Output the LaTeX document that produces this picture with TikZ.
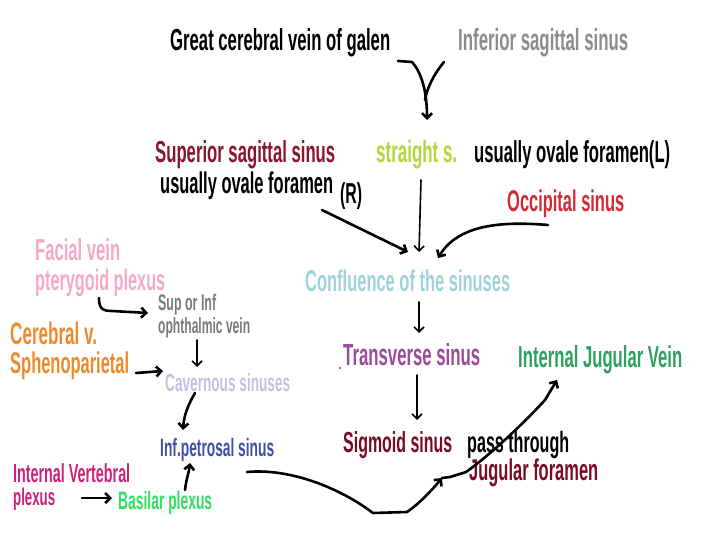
\documentclass[tikz,border=0pt]{standalone}
\usepackage{fontspec}
\newfontfamily\nar[FakeStretch=0.55]{Liberation Sans}
\usetikzlibrary{arrows.meta}
\definecolor{maroon}{HTML}{8A1530}
\definecolor{dmaroon}{HTML}{7A0A25}
\definecolor{grayt}{HTML}{8C8C8C}
\definecolor{ygreen}{HTML}{B5D63A}
\definecolor{occred}{HTML}{D42A35}
\definecolor{pinkt}{HTML}{F5A8C8}
\definecolor{lblue}{HTML}{9ED3DE}
\definecolor{grayo}{HTML}{7A7A7A}
\definecolor{oranget}{HTML}{EE8A2A}
\definecolor{lav}{HTML}{C8BEE0}
\definecolor{bluet}{HTML}{4050A8}
\definecolor{magt}{HTML}{D0207A}
\definecolor{bgreen}{HTML}{30E060}
\definecolor{purt}{HTML}{9E4A9C}
\definecolor{ijvg}{HTML}{2EA060}
\newcommand\fw[2]{\resizebox{#1pt}{!}{#2}}
\begin{document}
\begin{tikzpicture}[x=1pt,y=-1pt,
  lbl/.style={inner sep=0pt, anchor=west, font=\nar\bfseries},
  thick2/.style={line width=2.6pt, line cap=round, line join=round},
  thin2/.style={line width=1.6pt, line cap=round},
  tip/.style={-{Straight Barb[length=5pt,width=10pt]}}]
\useasboundingbox[fill=white] (0,0) rectangle (720,540);
% labels
\node[lbl, text=black] (galen) at (170,43) {\fw{220}{Great cerebral vein of galen}};
\node[lbl, text=grayt] (infsag) at (458,43) {\fw{170}{Inferior sagittal sinus}};
\node[lbl, text=maroon] (sss) at (155,155) {\fw{180}{Superior sagittal sinus}};
\node[lbl, text=ygreen] (straight) at (376,155) {\fw{81}{straight s.}};
\node[lbl, text=black] (uofL) at (474,155) {\fw{196}{usually ovale foramen(L)}};
\node[lbl, text=black] (uofR) at (160,186) {\fw{173}{usually ovale foramen}};
\node[lbl, text=black] (R) at (340,196) {\fw{22}{(R)}};
\node[lbl, text=occred] (occ) at (507,204) {\fw{117}{Occipital sinus}};
\node[lbl, text=pinkt] (facial) at (35,250) {\fw{85}{Facial vein}};
\node[lbl, text=pinkt] (ptery) at (35,283) {\fw{130}{pterygoid plexus}};
\node[lbl, text=lblue] (conf) at (305,281) {\fw{205}{Confluence of the sinuses}};
\node[lbl, text=grayo] (supinf) at (158,305) {\fw{58}{Sup or Inf}};
\node[lbl, text=grayo] (ophth) at (158,328) {\fw{92}{ophthalmic vein}};
\node[lbl, text=oranget] (cereb) at (10,333) {\fw{87}{Cerebral v.}};
\node[lbl, text=oranget] (spheno) at (10,366) {\fw{119}{Sphenoparietal}};
\node[lbl, text=lav] (cav) at (165,383) {\fw{125}{Cavernous sinuses}};
\node[lbl, text=purt] (trans) at (343,355) {\fw{137}{Transverse sinus}};
\node[lbl, text=ijvg] (ijv) at (518,360) {\fw{164}{Internal Jugular Vein}};
\node[lbl, text=bluet] (infpet) at (160,450) {\fw{114}{Inf.petrosal sinus}};
\node[lbl, text=magt] (intvert) at (13,473) {\fw{117}{Internal Vertebral}};
\node[lbl, text=magt] (plexus) at (13,499) {\fw{42}{plexus}};
\node[lbl, text=bgreen] (basilar) at (118,503) {\fw{94}{Basilar plexus}};
\node[lbl, text=dmaroon] (sigmoid) at (343,445) {\fw{109}{Sigmoid sinus}};
\node[lbl, text=black] (pass) at (467,445) {\fw{102}{pass through}};
\node[lbl, text=dmaroon] (jugfor) at (469,473) {\fw{129}{Jugular foramen}};
\fill (340,368) circle (0.8pt);
% coordinates
\coordinate (ya) at (398,61);
\coordinate (yb) at (444,62);
\coordinate (yt) at (427,120);
\coordinate (cl) at (408,252);
\coordinate (cm) at (419,252);
\coordinate (cr) at (438,258);
\coordinate (jf) at (442,478);
% connectors
\draw[thick2,tip] (ya) -- (412,62) .. controls (421,72) and (427,90) .. (yt);
\draw[thick2] (yb) .. controls (434,74) and (427,88) .. (425,100);
\draw[thick2,tip] (322,210) -- (cl);
\draw[thin2,tip] (421,180) -- (cm);
\draw[thick2,tip] (548,225) .. controls (500,221) and (458,225) .. (cr);
\draw[thin2,tip] (419,302) -- (419,333);
\draw[thin2,tip] (417,375) -- (417,420);
\draw[thick2,tip] (99,298) .. controls (99,308) and (102,311) .. (112,311) -- (148,313);
\draw[thick2,tip] (136,373) -- (163,371);
\draw[thin2,tip] (197,340) -- (197,367);
\draw[thick2,tip] (195,393) .. controls (188,405) and (184,415) .. (183,430);
\draw[thick2,tip] (185,490) .. controls (186,480) and (189,472) .. (190,463);
\draw[thick2,tip] (82,498) -- (112,498);
\draw[thick2,tip] (247,472) .. controls (290,468) and (340,488) .. (373,513) -- (407,512) .. controls (420,503) and (432,490) .. (jf);
\draw[thick2,tip] (jf) -- (450,477) -- (466,472) .. controls (490,455) and (522,425) .. (545,400) -- (557,380);
\end{tikzpicture}
\end{document}
